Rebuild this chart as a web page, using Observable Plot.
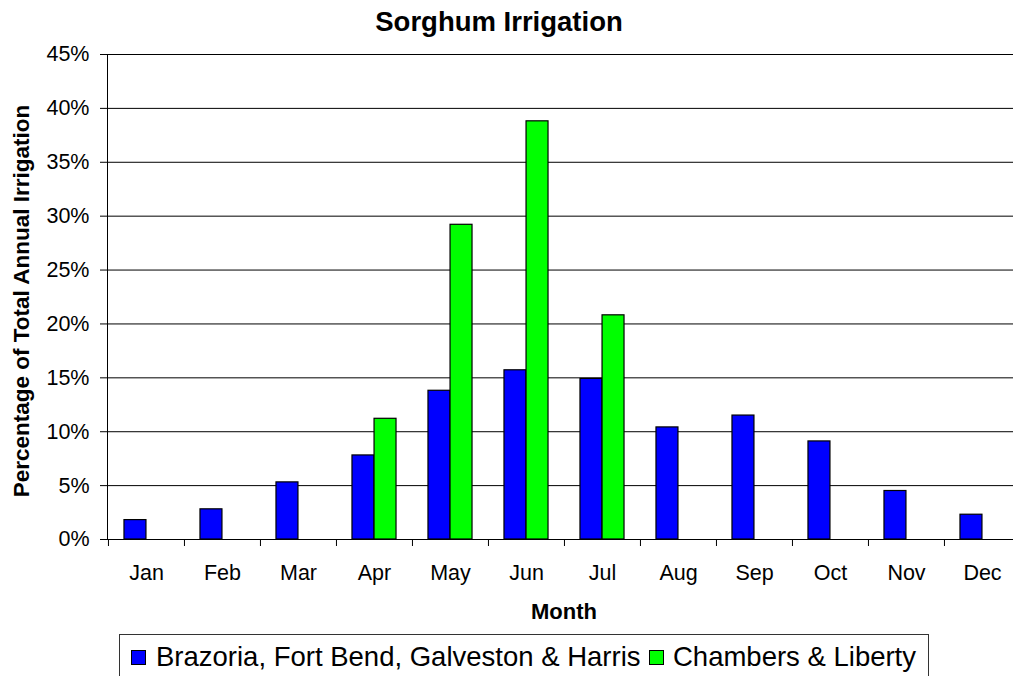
<!DOCTYPE html>
<html>
<head>
<meta charset="utf-8">
<script src="https://cdn.jsdelivr.net/npm/d3@7"></script>
<script src="https://cdn.jsdelivr.net/npm/@observablehq/plot@0.6"></script>
<style>
html, body { margin: 0; padding: 0; background: #fff; overflow: hidden; width: 1013px; height: 676px; }
#wrap { position: relative; width: 1013px; height: 676px; overflow: hidden; font-family: "Liberation Sans", Arial, sans-serif; color: #000; }
#chart { position: absolute; left: 0; top: 0; width: 1030px; }
#chart svg { max-width: none !important; }
#title { position: absolute; left: 0; top: 8px; width: 998px; text-align: center; font-weight: bold; font-size: 27.5px; line-height: 27.5px; }
#legend { position: absolute; left: 119px; top: 634px; width: 810px; height: 60px; border: 1px solid #333; box-sizing: border-box; background: #fff; }
.sw { position: absolute; top: 14.5px; width: 15px; height: 15px; box-sizing: border-box; border: 1px solid #000; }
.lt { position: absolute; top: 7.7px; font-size: 27.5px; line-height: 27.5px; white-space: nowrap; }
</style>
</head>
<body>
<div id="wrap">
  <div id="chart"></div>
  <div id="title"></div>
  <div id="legend"></div>
</div>
<script>
// ---- data ----
const title = "Sorghum Irrigation";
const xLabel = "Month";
const yLabel = "Percentage of Total Annual Irrigation";
const months = ["Jan", "Feb", "Mar", "Apr", "May", "Jun", "Jul", "Aug", "Sep", "Oct", "Nov", "Dec"];
const seriesNames = ["Brazoria, Fort Bend, Galveston & Harris", "Chambers & Liberty"];
const brazoria = [1.8, 2.8, 5.3, 7.8, 13.8, 15.7, 14.9, 10.4, 11.5, 9.1, 4.5, 2.3];
const chambers = [0, 0, 0, 11.2, 29.2, 38.8, 20.8, 0, 0, 0, 0, 0];
const yTicks = [0, 5, 10, 15, 20, 25, 30, 35, 40, 45];
const seriesColors = ["#0000FF", "#00FF00"];

// ---- layout ----
const W = 1030, H = 630, mL = 107, mR = 10, mT = 54, mB = H - 539;
const bw = (W - mL - mR) / months.length;

const rows = [];
months.forEach((m, i) => {
  rows.push({month: m, series: seriesNames[0], value: brazoria[i]});
  rows.push({month: m, series: seriesNames[1], value: chambers[i]});
});
const rowsA = rows.filter(d => d.series === seriesNames[0] && d.value > 0);
const rowsB = rows.filter(d => d.series === seriesNames[1] && d.value > 0);

const chart = Plot.plot({
  width: W,
  height: H,
  marginLeft: mL,
  marginRight: mR,
  marginTop: mT,
  marginBottom: mB,
  style: {fontFamily: '"Liberation Sans", Arial, sans-serif', color: "#000", background: "transparent", overflow: "visible", maxWidth: "none"},
  x: {domain: months, padding: 0},
  y: {domain: [0, 45]},
  color: {domain: seriesNames, range: seriesColors},
  marks: [
    Plot.ruleY(yTicks, {stroke: "#000", strokeWidth: 1}),
    Plot.barY(rowsA, {x: "month", y: "value", fill: "series", stroke: "#000", strokeWidth: 1.2,
      insetLeft: bw * 0.21, insetRight: bw * 0.5}),
    Plot.barY(rowsB, {x: "month", y: "value", fill: "series", stroke: "#000", strokeWidth: 1.2,
      insetLeft: bw * 0.5, insetRight: bw * 0.21}),
    Plot.frame({stroke: "#000"}),
    Plot.axisY({ticks: yTicks, tickFormat: d => d + "%", tickSize: 7, tickPadding: 11, fontSize: 21.5, label: null}),
    Plot.axisX({tickSize: 7, tickFormat: () => "", dx: -bw / 2, label: null}),
    Plot.axisX({tickSize: 0, tickPadding: 25, fontSize: 21.5, label: null}),
    Plot.text([xLabel], {frameAnchor: "bottom", text: d => d, dy: 79, fontSize: 22, fontWeight: "bold"}),
    Plot.text([yLabel], {frameAnchor: "left", textAnchor: "middle", text: d => d, rotate: -90, dx: -86, dy: 4, fontSize: 22.5, fontWeight: "bold"})
  ]
});
document.getElementById("chart").appendChild(chart);
document.getElementById("title").textContent = title;

// ---- legend ----
const legend = document.getElementById("legend");
const legendPos = [{sw: 11, tx: 36}, {sw: 529, tx: 553}];
seriesNames.forEach((name, i) => {
  const sw = document.createElement("div");
  sw.className = "sw";
  sw.style.left = legendPos[i].sw + "px";
  sw.style.background = seriesColors[i];
  legend.appendChild(sw);
  const t = document.createElement("div");
  t.className = "lt";
  t.style.left = legendPos[i].tx + "px";
  t.textContent = name;
  legend.appendChild(t);
});
</script>
</body>
</html>
